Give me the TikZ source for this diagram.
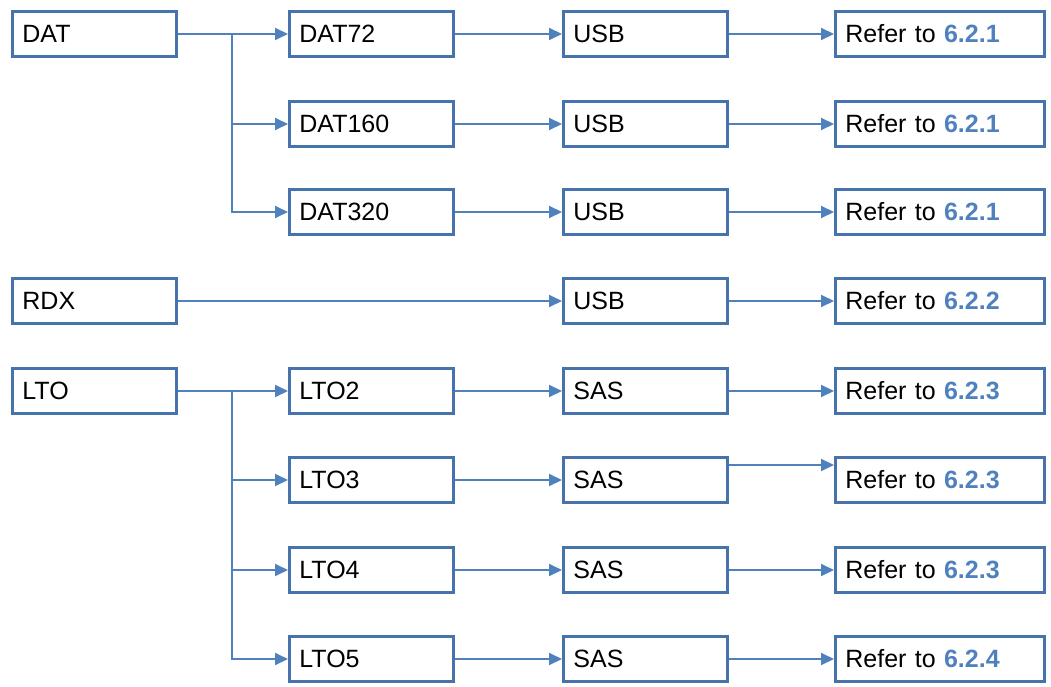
\documentclass[tikz,border=0pt]{standalone}
\usepackage{fontspec}
\setmainfont{Liberation Sans}
\usetikzlibrary{arrows.meta}
\definecolor{boxblue}{RGB}{70,115,172}
\definecolor{lineblue}{RGB}{79,129,189}
\tikzset{
  unit/.style={draw=boxblue, line width=2.8pt, anchor=west, minimum height=45pt,
    inner xsep=10pt, align=left, font=\fontsize{25}{29}\selectfont},
  narrow/.style={unit, text width=144pt},
  wide/.style={unit, text width=189pt},
  link/.style={draw=lineblue, line width=1.9pt, -{Triangle[length=13pt,width=12pt]}},
}
\newcommand{\refno}[1]{Refer to \textbf{\color{lineblue}#1}}
\begin{document}
\begin{tikzpicture}[x=1pt,y=-1pt]
        \useasboundingbox (0,0) rectangle (1051,687);
        % first column
        \node[narrow] (dat) at (11,34) {DAT};
        \node[narrow] (rdx) at (11,301) {RDX};
        \node[narrow] (lto) at (11,391) {LTO};
        % second column
        \node[narrow] (dat72) at (288,34) {DAT72};
        \node[narrow] (dat160) at (288,124) {DAT160};
        \node[narrow] (dat320) at (288,212) {DAT320};
        \node[narrow] (lto2) at (288,391) {LTO2};
        \node[narrow] (lto3) at (288,480) {LTO3};
        \node[narrow] (lto4) at (288,570) {LTO4};
        \node[narrow] (lto5) at (288,659) {LTO5};
        % third column
        \node[narrow] (usba) at (562,34) {USB};
        \node[narrow] (usbb) at (562,124) {USB};
        \node[narrow] (usbc) at (562,212) {USB};
        \node[narrow] (usbd) at (562,301) {USB};
        \node[narrow] (sasa) at (562,391) {SAS};
        \node[narrow] (sasb) at (562,480) {SAS};
        \node[narrow] (sasc) at (562,570) {SAS};
        \node[narrow] (sasd) at (562,659) {SAS};
        % fourth column
        \node[wide] (refa) at (834,34) {\refno{6.2.1}};
        \node[wide] (refb) at (834,124) {\refno{6.2.1}};
        \node[wide] (refc) at (834,212) {\refno{6.2.1}};
        \node[wide] (refd) at (834,301) {\refno{6.2.2}};
        \node[wide] (refe) at (834,391) {\refno{6.2.3}};
        \node[wide] (reff) at (834,480) {\refno{6.2.3}};
        \node[wide] (refg) at (834,570) {\refno{6.2.3}};
        \node[wide] (refh) at (834,659) {\refno{6.2.4}};
        % branch points
        \coordinate (jdat) at (232,34);
        \coordinate (jlto) at (232,391);
        \draw[link] (dat) -- (dat72);
        \draw[link] (jdat) |- (dat160);
        \draw[link] (jdat) |- (dat320);
        \draw[link] (rdx) -- (usbd);
        \draw[link] (lto) -- (lto2);
        \draw[link] (jlto) |- (lto3);
        \draw[link] (jlto) |- (lto4);
        \draw[link] (jlto) |- (lto5);
        \draw[link] (dat72) -- (usba);
        \draw[link] (dat160) -- (usbb);
        \draw[link] (dat320) -- (usbc);
        \draw[link] (lto2) -- (sasa);
        \draw[link] (lto3) -- (sasb);
        \draw[link] (lto4) -- (sasc);
        \draw[link] (lto5) -- (sasd);
        \draw[link] (usba) -- (refa);
        \draw[link] (usbb) -- (refb);
        \draw[link] (usbc) -- (refc);
        \draw[link] (usbd) -- (refd);
        \draw[link] (sasa) -- (refe);
        \draw[link] ([yshift=15pt]sasb.east) -- ([yshift=15pt]reff.west);
        \draw[link] (sasc) -- (refg);
        \draw[link] (sasd) -- (refh);
\end{tikzpicture}
\end{document}
